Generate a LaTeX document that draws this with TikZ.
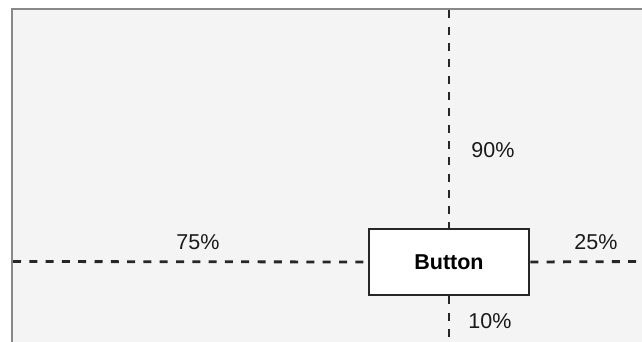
\documentclass[tikz,border=0pt]{standalone}
\usepackage{fontspec}
\setmainfont{Liberation Sans}
\definecolor{bggray}{HTML}{F4F4F4}
\definecolor{framegray}{HTML}{888888}
\definecolor{txt}{HTML}{1A1A1A}
\begin{document}
\begin{tikzpicture}[x=1pt,y=-1pt,
  guide/.style={line width=2.8pt, dash pattern=on 8pt off 8.3pt, color=black!85},
  lbl/.style={font=\fontsize{21.5}{25}\selectfont, text=txt, inner sep=0pt},
  btn/.style={draw=black!85, line width=2.8pt, fill=white, minimum width=160pt, minimum height=66pt, inner sep=0pt, font=\fontsize{21.5}{25}\selectfont\bfseries}]
  \useasboundingbox (0,0) rectangle (642,342);
  \fill[white] (0,0) rectangle (642,342);
  \fill[bggray] (12,9) rectangle (642,342);
  \draw[framegray, line width=2.8pt] (12,342) -- (12,9) -- (642,9);
  \node[btn] (button) at (449,262) {Button};
  \coordinate (leftend) at (13,261.5);
  \coordinate (rightend) at (642,261.5);
  \coordinate (topend) at (449,10.5);
  \coordinate (bottomend) at (449,342);
  \draw[guide] (leftend) -- (button.west);
  \draw[guide] (button.east) -- (rightend);
  \draw[guide] (topend) -- (button.north);
  \draw[guide] (button.south) -- (bottomend);
  \node[lbl] (p90) at (493,150) {90\%};
  \node[lbl] (p75) at (198,242) {75\%};
  \node[lbl] (p25) at (596,242) {25\%};
  \node[lbl] (p10) at (490,321) {10\%};
\end{tikzpicture}
\end{document}
